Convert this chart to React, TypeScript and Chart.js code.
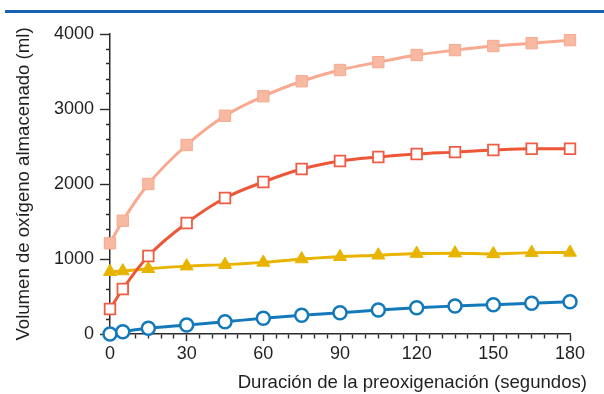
import React, { useEffect, useRef } from 'react';
import { Chart, registerables } from 'chart.js';

Chart.register(...registerables);

// ---- data ----
const times = [0, 5, 15, 30, 45, 60, 75, 90, 105, 120, 135, 150, 165, 180];
const seriesSalmon = [1210, 1510, 2000, 2520, 2910, 3170, 3370, 3520, 3625, 3720, 3785, 3840, 3878, 3918];
const seriesRed = [333, 600, 1040, 1480, 1813, 2027, 2200, 2307, 2360, 2400, 2425, 2453, 2470, 2470];
const seriesGold = [830, 840, 870, 905, 925, 955, 1000, 1030, 1050, 1072, 1078, 1068, 1085, 1087];
const seriesBlue = [0, 31, 76, 120, 164, 209, 249, 284, 320, 351, 373, 391, 409, 431];

const xMajorTicks = [0, 30, 60, 90, 120, 150, 180];
const yMajorTicks = [0, 1000, 2000, 3000, 4000];
const xMinorStep = 5;
const yMinorStep = 200;

const xTitle = 'Duración de la preoxigenación (segundos)';
const yTitle = 'Volumen de oxígeno almacenado (ml)';

const FONT = '"Liberation Sans", Arial, Helvetica, sans-serif';
const TEXT = '#231f20';
const AXIS = '#2b2b2b';

const X_MAJOR_LEN = 7;
const Y_MAJOR_LEN = 10;
const MINOR_LEN = 4;

const toPoints = (vals: number[]) => times.map((t, i) => ({ x: t, y: vals[i] }));

const decor = {
  id: 'decor',
  beforeDraw(chart: any) {
    const ctx = chart.ctx;
    ctx.save();
    ctx.fillStyle = '#1762b0';
    ctx.fillRect(5, 10, 599, 3);
    ctx.restore();
  },
  afterDraw(chart: any) {
    const ctx = chart.ctx;
    ctx.save();
    ctx.font = '18.6px ' + FONT;
    ctx.fillStyle = TEXT;
    ctx.textAlign = 'right';
    ctx.textBaseline = 'alphabetic';
    ctx.fillText(xTitle, chart.chartArea.right + 17, 388);
    ctx.restore();
  },
};

export default function App() {
  const ref = useRef<HTMLCanvasElement | null>(null);

  useEffect(() => {
    if (!ref.current) return;
    Chart.defaults.font.family = FONT;
    Chart.defaults.font.size = 18;
    Chart.defaults.color = TEXT;

    const line = (vals: number[], o: any) => ({
      data: toPoints(vals),
      borderWidth: 3,
      cubicInterpolationMode: 'monotone',
      clip: false,
      ...o,
    });

    const chart = new Chart(ref.current, {
      type: 'line',
      data: {
        datasets: [
          line(seriesBlue, {
            label: 'D',
            borderColor: '#1479bb',
            pointStyle: 'circle',
            pointRadius: 6.5,
            pointBackgroundColor: '#ffffff',
            pointBorderColor: '#1479bb',
            pointBorderWidth: 2.5,
          }),
          line(seriesRed, {
            label: 'B',
            borderColor: '#ee5638',
            pointStyle: 'rect',
            pointRadius: 7.5,
            pointBackgroundColor: '#ffffff',
            pointBorderColor: '#ef5c44',
            pointBorderWidth: 1.8,
          }),
          line(seriesSalmon, {
            label: 'A',
            borderColor: '#f8a98f',
            pointStyle: 'rect',
            pointRadius: 8,
            pointBackgroundColor: '#f8b9a2',
            pointBorderColor: '#f6a98f',
            pointBorderWidth: 1,
          }),
          line(seriesGold, {
            label: 'C',
            borderColor: '#e8b400',
            pointStyle: 'triangle',
            pointRadius: 7.5,
            pointBackgroundColor: '#e8b400',
            pointBorderColor: '#e8b400',
            pointBorderWidth: 1,
          }),
        ],
      },
      options: {
        responsive: false,
        animation: false,
        layout: { padding: { left: 0, right: 34, top: 34, bottom: 0 } },
        plugins: { legend: { display: false }, tooltip: { enabled: false } },
        scales: {
          x: {
            type: 'linear',
            position: 'bottom',
            min: 0,
            max: 180,
            afterFit: (s: any) => { s.height = 60; },
            ticks: {
              stepSize: xMinorStep,
              autoSkip: false,
              padding: 2,
              color: TEXT,
              font: { size: 18 },
              maxRotation: 0,
              callback: (v: any) => (xMajorTicks.includes(Number(v)) ? String(v) : ''),
            },
            grid: {
              drawOnChartArea: false,
              drawTicks: true,
              tickLength: X_MAJOR_LEN,
              tickWidth: 1.4,
              tickColor: AXIS,
              tickBorderDash: (c: any) =>
                c.tick && xMajorTicks.includes(c.tick.value) ? [] : [MINOR_LEN, 100],
            },
            border: { display: true, color: AXIS, width: 1.5 },
          },
          y: {
            type: 'linear',
            position: 'left',
            min: 0,
            max: 4000,
            afterFit: (s: any) => { s.width = 110; },
            ticks: {
              stepSize: yMinorStep,
              autoSkip: false,
              padding: 6,
              color: TEXT,
              font: { size: 18 },
              callback: (v: any) => (yMajorTicks.includes(Number(v)) ? String(v) : ''),
            },
            grid: {
              drawOnChartArea: false,
              drawTicks: true,
              tickLength: Y_MAJOR_LEN,
              tickWidth: 1.4,
              tickColor: AXIS,
              tickBorderDash: (c: any) =>
                c.tick && yMajorTicks.includes(c.tick.value) ? [] : [0, Y_MAJOR_LEN - MINOR_LEN, MINOR_LEN, 100],
            },
            border: { display: true, color: AXIS, width: 1.5 },
            title: { display: true, text: yTitle, color: TEXT, font: { size: 18.6 }, padding: { top: 13, bottom: 0 } },
          },
        } as any,
      },
      plugins: [decor],
    } as any);

    return () => chart.destroy();
  }, []);

  return (
    <div style={{ position: 'absolute', left: 0, top: 0, width: 604, height: 394, background: '#fff' }}>
      <canvas ref={ref} width={604} height={394} style={{ display: 'block' }} />
    </div>
  );
}
